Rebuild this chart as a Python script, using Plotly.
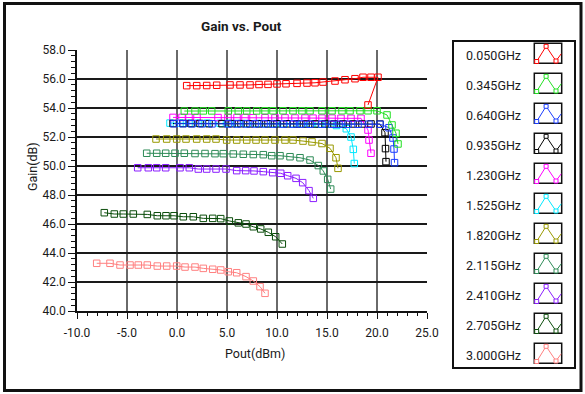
import plotly.graph_objects as go

# ---------------- data ----------------
labels = ["0.050GHz", "0.345GHz", "0.640GHz", "0.935GHz", "1.230GHz", "1.525GHz",
          "1.820GHz", "2.115GHz", "2.410GHz", "2.705GHz", "3.000GHz"]
colors = ["#ff0000", "#22e022", "#1a3cff", "#000000", "#ff00ff", "#00e8ff",
          "#999900", "#2e8b57", "#8b1eff", "#0b4d0b", "#ff8080"]

pout_0050 = [0.97, 1.97, 2.97, 3.97, 5.3, 6.3, 7.3, 8.2, 9.1, 10.0, 10.9, 12.0, 13.0, 13.8,
             14.6, 15.8, 16.8, 17.8, 18.6, 19.4, 20.1, 19.1]
gain_0050 = [55.54, 55.54, 55.55, 55.57, 55.59, 55.59, 55.59, 55.62, 55.63, 55.66, 55.67, 55.70,
             55.72, 55.74, 55.79, 55.86, 55.95, 56.02, 56.12, 56.12, 56.12, 54.21]

pout_0345 = [0.73, 1.8, 2.63, 3.47, 5.13, 6.13, 6.97, 7.97, 8.8, 9.6, 10.6, 11.6, 12.5, 13.3,
             14.5, 15.5, 16.5, 17.3, 18.3, 19.1, 20.0, 21.0, 21.5, 21.9, 22.1]
gain_0345 = [53.79, 53.79, 53.80, 53.80, 53.80, 53.80, 53.80, 53.80, 53.81, 53.81, 53.81, 53.81,
             53.81, 53.81, 53.81, 53.81, 53.81, 53.81, 53.81, 53.81, 53.81, 53.52, 52.83, 52.26, 51.52]

pout_0640 = [-0.3, 0.6, 1.5, 2.5, 3.5, 5.1, 6.0, 6.9, 7.8, 8.7, 9.6, 10.6, 11.6, 12.4, 13.3,
             14.5, 15.5, 16.2, 17.1, 18.1, 19.2, 20.3, 21.2, 21.6, 21.7, 21.75]
gain_0640 = [52.92, 52.92, 52.91, 52.91, 52.91, 52.90, 52.90, 52.90, 52.90, 52.90, 52.89, 52.89,
             52.89, 52.89, 52.88, 52.88, 52.88, 52.88, 52.88, 52.88, 52.88, 52.88, 52.64, 51.93,
             51.17, 50.23]

pout_0935 = [-0.4, 0.6, 1.4, 2.3, 3.2, 4.5, 5.5, 6.4, 7.3, 8.2, 9.1, 10.0, 11.0, 12.0, 12.9,
             13.8, 14.8, 15.7, 16.6, 17.6, 18.5, 19.4, 20.3, 20.8, 20.85, 20.9]
gain_0935 = [52.93, 52.93, 52.93, 52.93, 52.92, 52.92, 52.92, 52.92, 52.91, 52.91, 52.91, 52.91,
             52.91, 52.90, 52.90, 52.90, 52.90, 52.90, 52.90, 52.90, 52.90, 52.90, 52.89, 52.30,
             51.20, 50.30]

pout_1230 = [-0.4, 0.5, 1.2, 2.0, 4.1, 5.1, 6.0, 6.8, 7.6, 8.8, 9.8, 10.8, 11.8, 12.8, 13.6,
             14.5, 15.5, 16.4, 17.4, 18.4, 19.1, 19.2, 19.4]
gain_1230 = [53.35, 53.35, 53.35, 53.35, 53.34, 53.34, 53.34, 53.34, 53.33, 53.33, 53.32, 53.32,
             53.31, 53.31, 53.30, 53.30, 53.30, 53.29, 53.29, 53.29, 52.48, 51.79, 50.88]

pout_1525 = [-0.7, 0.3, 1.2, 2.1, 3.0, 4.3, 5.2, 6.1, 7.0, 8.0, 8.9, 9.8, 10.7, 11.6, 12.5,
             13.4, 14.2, 15.0, 15.95, 16.93, 17.4, 17.63, 17.73]
gain_1525 = [52.96, 52.96, 52.95, 52.95, 52.95, 52.94, 52.94, 52.93, 52.93, 52.93, 52.92, 52.92,
             52.91, 52.91, 52.90, 52.90, 52.89, 52.88, 52.79, 52.57, 52.00, 51.15, 50.17]

pout_1820 = [-2.1, -1.03, -0.03, 0.9, 1.97, 2.97, 3.9, 4.97, 5.97, 6.97, 7.9, 8.8, 9.8, 10.8,
             11.6, 12.6, 13.5, 14.5, 15.3, 15.9, 16.1]
gain_1820 = [51.86, 51.86, 51.86, 51.86, 51.86, 51.86, 51.86, 51.79, 51.79, 51.79, 51.79, 51.79,
             51.79, 51.79, 51.79, 51.72, 51.66, 51.55, 51.22, 50.57, 49.84]

pout_2115 = [-3.03, -2.03, -1.13, -0.2, 0.73, 1.8, 2.8, 3.8, 4.63, 5.63, 6.63, 7.63, 8.63, 9.47,
             10.3, 11.3, 12.3, 13.3, 14.13, 14.63, 15.07, 15.37]
gain_2115 = [50.88, 50.88, 50.88, 50.88, 50.88, 50.86, 50.86, 50.85, 50.85, 50.83, 50.81, 50.79,
             50.78, 50.71, 50.71, 50.64, 50.57, 50.41, 50.03, 49.66, 49.08, 48.41]

pout_2410 = [-3.93, -2.87, -2.03, -1.13, 0.3, 1.23, 2.13, 2.97, 3.9, 4.9, 5.97, 6.87, 7.7, 8.63,
             9.57, 10.37, 11.07, 11.9, 12.57, 13.2, 13.63]
gain_2410 = [49.88, 49.88, 49.88, 49.88, 49.88, 49.88, 49.79, 49.79, 49.79, 49.79, 49.68, 49.68,
             49.66, 49.61, 49.54, 49.50, 49.33, 49.15, 48.85, 48.30, 47.77]

pout_2705 = [-7.27, -6.27, -5.37, -4.37, -2.97, -1.97, -1.1, -0.3, 0.63, 1.63, 2.63, 3.57, 4.37,
             5.23, 6.13, 6.9, 7.63, 8.37, 9.13, 9.87, 10.53]
gain_2705 = [46.78, 46.69, 46.69, 46.69, 46.66, 46.57, 46.57, 46.57, 46.50, 46.50, 46.39, 46.39,
             46.37, 46.21, 46.08, 46.00, 45.81, 45.66, 45.43, 45.12, 44.62]

pout_3000 = [-8.03, -6.7, -5.7, -4.7, -3.87, -2.97, -1.97, -1.03, -0.03, 0.8, 1.8, 2.63, 3.57,
             4.37, 5.13, 5.97, 6.9, 7.63, 8.3, 8.8]
gain_3000 = [43.29, 43.29, 43.17, 43.17, 43.17, 43.17, 43.10, 43.10, 43.10, 43.03, 43.03, 42.94,
             42.88, 42.83, 42.71, 42.64, 42.37, 42.07, 41.68, 41.22]

x_ticks = [-10, -5, 0, 5, 10, 15, 20, 25]
y_ticks = [40, 42, 44, 46, 48, 50, 52, 54, 56, 58]

series_x = [pout_0050, pout_0345, pout_0640, pout_0935, pout_1230, pout_1525,
            pout_1820, pout_2115, pout_2410, pout_2705, pout_3000]
series_y = [gain_0050, gain_0345, gain_0640, gain_0935, gain_1230, gain_1525,
            gain_1820, gain_2115, gain_2410, gain_2705, gain_3000]

# ---------------- layout geometry (pixels) ----------------
W, H = 585, 394
L, R, T, B = 77, 427, 50, 311


def px(x):
    return (x - L) / (R - L)


def py(y):
    return (B - y) / (B - T)


fig = go.Figure()
# draw in reverse so the first series end up on top (as in the reference)
for name, col, xs, ys in reversed(list(zip(labels, colors, series_x, series_y))):
    fig.add_trace(go.Scatter(
        x=xs, y=ys, name=name, mode="lines+markers",
        line=dict(color=col, width=1),
        marker=dict(symbol="square-open", size=6.5, color=col, line=dict(width=1, color=col)),
        showlegend=False,
    ))

tickfont = dict(family="Roboto", size=12, color="#1a1a1a")

fig.update_xaxes(
    range=[-10, 25], tickvals=x_ticks, ticktext=[f"{v:.1f}" for v in x_ticks],
    showgrid=True, gridcolor="#6a6a6a", gridwidth=2,
    showline=True, linecolor="#111111", linewidth=1.5,
    ticks="outside", ticklen=6, tickcolor="#111111", tickwidth=1,
    minor=dict(dtick=1, tick0=0, ticks="outside", ticklen=3, tickcolor="#111111", showgrid=False),
    tickfont=tickfont, zeroline=False, ticklabelstandoff=4,
)
fig.update_yaxes(
    range=[40, 58], tickvals=y_ticks, ticktext=[f"{v:.1f}" for v in y_ticks],
    showgrid=True, gridcolor="#1a1a1a", gridwidth=1.5,
    showline=True, linecolor="#111111", linewidth=1.5,
    ticks="outside", ticklen=7, tickcolor="#111111", tickwidth=1,
    minor=dict(dtick=0.4, tick0=40, ticks="outside", ticklen=4, tickcolor="#111111", showgrid=False),
    tickfont=tickfont, zeroline=False,
)

shapes = []
annotations = []

# outer frame
shapes.append(dict(type="rect", xref="paper", yref="paper",
                   x0=px(4.5), x1=px(581), y0=py(3.5), y1=py(390.5),
                   line=dict(color="#111111", width=3), layer="below"))
# legend frame
shapes.append(dict(type="rect", xref="paper", yref="paper",
                   x0=px(453), x1=px(575), y0=py(41), y1=py(368),
                   line=dict(color="#111111", width=2)))

for i, (name, col) in enumerate(zip(labels, colors)):
    top = 43.3 + 30 * i
    bx0, bx1 = 534.3, 561.7
    shapes.append(dict(type="rect", xref="paper", yref="paper",
                       x0=px(bx0), x1=px(bx1), y0=py(top), y1=py(top + 20),
                       line=dict(color="#111111", width=1.5), fillcolor="white"))
    pts = [(bx0 + 2.4, top + 18.2), (bx0 + 11.8, top + 3.0), (bx0 + 21.7, top + 17.7), (bx1 - 0.5, top + 10.5)]
    path = "M " + " L ".join(f"{px(a):.5f},{py(b):.5f}" for a, b in pts)
    shapes.append(dict(type="path", xref="paper", yref="paper", path=path,
                       line=dict(color=col, width=1)))
    for a, b in pts[:3]:
        shapes.append(dict(type="rect", xref="paper", yref="paper",
                           x0=px(a - 2), x1=px(a + 2), y0=py(b - 2), y1=py(b + 2),
                           line=dict(color=col, width=1), fillcolor="white"))
    annotations.append(dict(xref="paper", yref="paper", x=px(523), y=py(55 + 30 * i),
                            xanchor="right", yanchor="middle", showarrow=False,
                            text=name, font=dict(family="Roboto", size=12.5, color="#1a1a1a")))

annotations.append(dict(xref="paper", yref="paper", x=px(241), y=py(26),
                        xanchor="center", yanchor="middle", showarrow=False,
                        text="<b>Gain vs. Pout</b>", font=dict(family="Roboto", size=13.5, color="#1a1a1a")))
annotations.append(dict(xref="paper", yref="paper", x=px(255), y=py(353),
                        xanchor="center", yanchor="middle", showarrow=False,
                        text="Pout(dBm)", font=dict(family="Roboto", size=12.5, color="#1a1a1a")))
annotations.append(dict(xref="paper", yref="paper", x=px(32), y=py(167),
                        xanchor="center", yanchor="middle", showarrow=False, textangle=-90,
                        text="Gain(dB)", font=dict(family="Roboto", size=12.5, color="#1a1a1a")))

fig.update_layout(
    width=W, height=H,
    margin=dict(l=L, r=W - R, t=T, b=H - B, pad=0),
    paper_bgcolor="white", plot_bgcolor="white",
    showlegend=False,
    shapes=shapes, annotations=annotations,
)

fig.write_html("out.html", config={"displayModeBar": False},
               post_script="document.body.style.margin='0px';document.body.style.overflow='hidden';")
